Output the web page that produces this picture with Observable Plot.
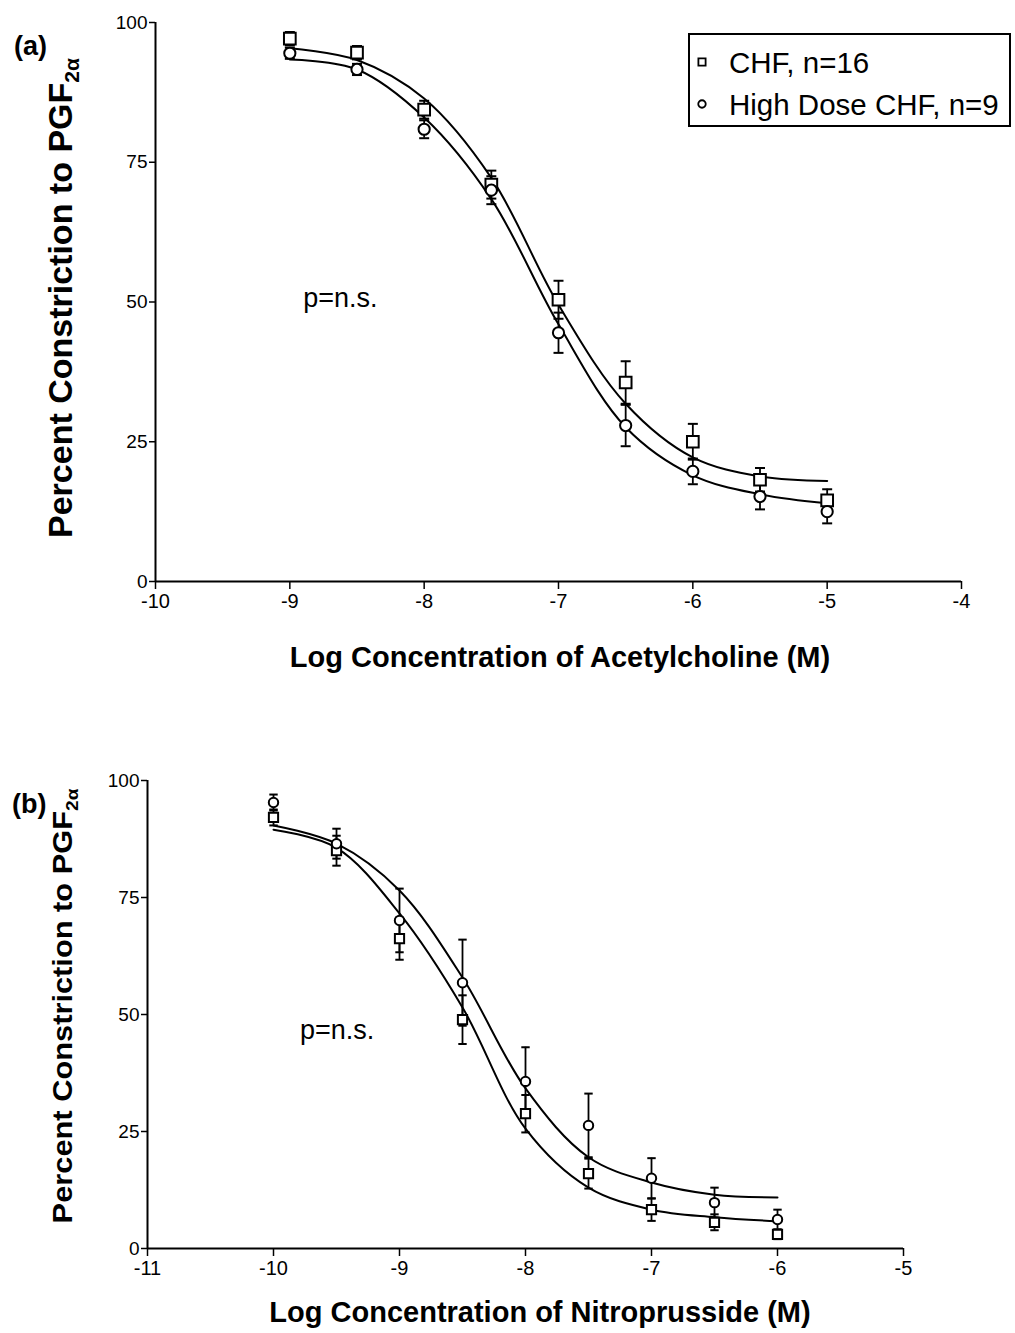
<!DOCTYPE html>
<html>
<head>
<meta charset="utf-8">
<script src="https://cdn.jsdelivr.net/npm/d3@7"></script>
<script src="https://cdn.jsdelivr.net/npm/@observablehq/plot@0.6"></script>
<style>
  html, body { margin: 0; padding: 0; background: #fff; }
  #wrap { position: relative; width: 1015px; height: 1333px; background: #fff;
          font-family: "Liberation Sans", Arial, Helvetica, sans-serif; color: #000; }
  .abs { position: absolute; white-space: nowrap; }
  .panel { position: absolute; left: 0; }
  .ylab { font-weight: bold; transform: translate(-50%, -50%) rotate(-90deg); }
  .ylabb { font-weight: bold; transform: translate(-50%, -50%) rotate(-90deg) scaleX(1.12); }
  .xlab { font-weight: bold; transform: translate(-50%, -50%); }
  .sub { font-size: 0.62em; position: relative; top: 0.35em; }
  .legend { border: 2px solid #000; box-sizing: border-box; }
</style>
</head>
<body>
<div id="wrap"></div>
<script>
// ---------- Panel (a): Acetylcholine ----------
const concA   = [-9, -8.5, -8, -7.5, -7, -6.5, -6, -5.5, -5];
const chfA    = [97.1, 94.6, 84.4, 71.0, 50.4, 35.6, 25.0, 18.2, 14.5];
const chfAse  = [1.2, 1.2, 1.6, 2.5, 3.4, 3.8, 3.2, 2.1, 2.0];
const hdA     = [94.5, 91.6, 80.9, 70.0, 44.5, 27.9, 19.7, 15.2, 12.5];
const hdAse   = [1.0, 1.0, 1.6, 2.5, 3.6, 3.7, 2.3, 2.3, 2.1];
// fitted curves
const fitXA   = [-9, -8.5, -8, -7.5, -7, -6.5, -6, -5.5, -5];
const chfFitA = [95.4, 93.3, 86.4, 72.2, 49.5, 31.8, 22.2, 18.8, 18.0];
const hdFitA  = [93.4, 91.6, 83.0, 68.4, 46.0, 27.6, 19.0, 15.6, 14.0];
const xTicksA = [-10, -9, -8, -7, -6, -5, -4];

// ---------- Panel (b): Nitroprusside ----------
const concB   = [-10, -9.5, -9, -8.5, -8, -7.5, -7, -6.5, -6];
const chfB    = [92.1, 85.0, 66.2, 48.9, 28.8, 16.0, 8.3, 5.6, 3.0];
const chfBse  = [1.7, 3.2, 4.5, 5.2, 4.0, 3.2, 2.4, 1.7, 1.0];
const hdB     = [95.3, 86.5, 70.1, 56.8, 35.7, 26.3, 15.0, 9.8, 6.2];
const hdBse   = [1.7, 3.2, 6.8, 9.2, 7.3, 6.8, 4.3, 3.2, 2.1];
const fitXB   = [-10, -9.5, -9, -8.5, -8, -7.5, -7, -6.5, -6];
const chfFitB = [89.5, 85.6, 71.6, 51.5, 25.6, 13.0, 8.3, 6.7, 5.8];
const hdFitB  = [90.4, 86.5, 76.5, 57.9, 34.2, 19.5, 14.1, 11.5, 10.9];
const xTicksB = [-11, -10, -9, -8, -7, -6, -5];

const yTicks = [0, 25, 50, 75, 100];
const seriesNames = ["CHF, n=16", "High Dose CHF, n=9"];
const xLabels = ["Log Concentration of Acetylcholine (M)", "Log Concentration of Nitroprusside (M)"];
const annotation = "p=n.s.";

// custom symbol: horizontal cap for error bars
const capSymbol = {
  draw(context, size) {
    const w = Math.sqrt(size / Math.PI);
    context.moveTo(-w, 0);
    context.lineTo(w, 0);
  }
};

function rows(xs, ys, ses) {
  return xs.map((x, i) => ({x, y: ys[i], se: ses ? ses[i] : 0}));
}

function panel(o) {
  const s1 = rows(o.conc, o.chf, o.chfSe);   // squares (CHF)
  const s2 = rows(o.conc, o.hd, o.hdSe);     // circles (High Dose)
  const f1 = rows(o.fitX, o.chfFit);
  const f2 = rows(o.fitX, o.hdFit);
  const xmin = o.xTicks[0], xmax = o.xTicks[o.xTicks.length - 1];
  const errMarks = (data, r) => [
    Plot.ruleX(data, {x: "x", y1: d => d.y - d.se, y2: d => d.y + d.se, stroke: "#000", strokeWidth: 1.8}),
    Plot.dot(data, {x: "x", y: d => d.y + d.se, symbol: capSymbol, r, fill: "none", stroke: "#000", strokeWidth: 2}),
    Plot.dot(data, {x: "x", y: d => d.y - d.se, symbol: capSymbol, r, fill: "none", stroke: "#000", strokeWidth: 2})
  ];
  return Plot.plot({
    width: 1015,
    height: o.height,
    marginTop: o.mt, marginBottom: o.mb, marginLeft: o.ml, marginRight: o.mr,
    style: {background: "transparent", fontFamily: "'Liberation Sans', Arial, sans-serif", color: "#000"},
    x: {domain: [xmin, xmax]},
    y: {domain: [0, 100]},
    marks: [
      Plot.ruleY([0], {x1: xmin, x2: xmax, stroke: "#000", strokeWidth: 2}),
      Plot.ruleX([xmin], {y1: 0, y2: 100, stroke: "#000", strokeWidth: 2}),
      Plot.axisY({ticks: yTicks, tickSize: 6, tickPadding: 2, fontSize: 19, label: null, strokeWidth: 1.5, tickFormat: d => String(d)}),
      Plot.axisX({ticks: o.xTicks, tickSize: 8, tickPadding: 4, fontSize: 20, label: null, strokeWidth: 1.5, tickFormat: d => String(d)}),
      Plot.line(f1, {x: "x", y: "y", curve: "catmull-rom", stroke: "#000", strokeWidth: 2}),
      Plot.line(f2, {x: "x", y: "y", curve: "catmull-rom", stroke: "#000", strokeWidth: 2}),
      ...errMarks(s1, o.cap),
      ...errMarks(s2, o.cap),
      Plot.dot(s1, {x: "x", y: "y", symbol: "square", r: o.rs, fill: "#fff", stroke: "#000", strokeWidth: 2}),
      Plot.dot(s2, {x: "x", y: "y", symbol: "circle", r: o.rc, fill: "#fff", stroke: "#000", strokeWidth: 2}),
      Plot.text([annotation], {x: o.annX, y: o.annY, textAnchor: "start", fontSize: 27, fill: "#000"})
    ]
  });
}

const wrap = document.getElementById("wrap");

const pa = panel({
  conc: concA, chf: chfA, chfSe: chfAse, hd: hdA, hdSe: hdAse,
  fitX: fitXA, chfFit: chfFitA, hdFit: hdFitA, xTicks: xTicksA,
  height: 680, mt: 22, mb: 99, ml: 155, mr: 54,
  rs: 6.6, rc: 5.6, cap: 5, annX: -8.9, annY: 50.6
});
pa.classList.add("panel"); pa.style.top = "0px";
wrap.appendChild(pa);

const pb = panel({
  conc: concB, chf: chfB, chfSe: chfBse, hd: hdB, hdSe: hdBse,
  fitX: fitXB, chfFit: chfFitB, hdFit: hdFitB, xTicks: xTicksB,
  height: 653, mt: 100, mb: 85, ml: 147, mr: 112,
  rs: 5.2, rc: 4.7, cap: 4.2, annX: -9.79, annY: 46.6
});
pb.classList.add("panel"); pb.style.top = "680px";
wrap.appendChild(pb);

function addDiv(html, cls, css) {
  const d = document.createElement("div");
  d.className = "abs " + cls;
  d.innerHTML = html;
  Object.assign(d.style, css);
  wrap.appendChild(d);
  return d;
}

// panel letters
addDiv("(a)", "", {left: "14px", top: "31px", fontSize: "27px", fontWeight: "bold"});
addDiv("(b)", "", {left: "12px", top: "789px", fontSize: "27px", fontWeight: "bold"});

// y axis titles
const ylabHTML = 'Percent Constriction to PGF<span class="sub">2&alpha;</span>';
addDiv(ylabHTML, "ylab", {left: "60px", top: "298px", fontSize: "34px"});
addDiv(ylabHTML, "ylabb", {left: "63px", top: "1006px", fontSize: "27.5px"});

// x axis titles
addDiv(xLabels[0], "xlab", {left: "560px", top: "657px", fontSize: "29px"});
addDiv(xLabels[1], "xlab", {left: "540px", top: "1312px", fontSize: "29px"});

// legend
const leg = addDiv("", "legend", {left: "688px", top: "33px", width: "323px", height: "94px", background: "#fff"});
const legSvg = d3.select(leg).append("svg").attr("width", 319).attr("height", 90)
  .style("position", "absolute").style("left", "0px").style("top", "0px");
const legendSymbols = [d3.symbolSquare, d3.symbolCircle];
seriesNames.forEach((name, i) => {
  const cy = 27 + i * 42;
  legSvg.append("path")
    .attr("d", d3.symbol(legendSymbols[i], i === 0 ? 52 : 44)())
    .attr("transform", `translate(12,${cy})`)
    .attr("fill", "#fff").attr("stroke", "#000").attr("stroke-width", 1.8);
  legSvg.append("text")
    .attr("x", 39).attr("y", cy).attr("dy", "0.36em")
    .attr("font-size", 29.5)
    .attr("font-family", "'Liberation Sans', Arial, sans-serif")
    .text(name);
});
</script>
</body>
</html>
